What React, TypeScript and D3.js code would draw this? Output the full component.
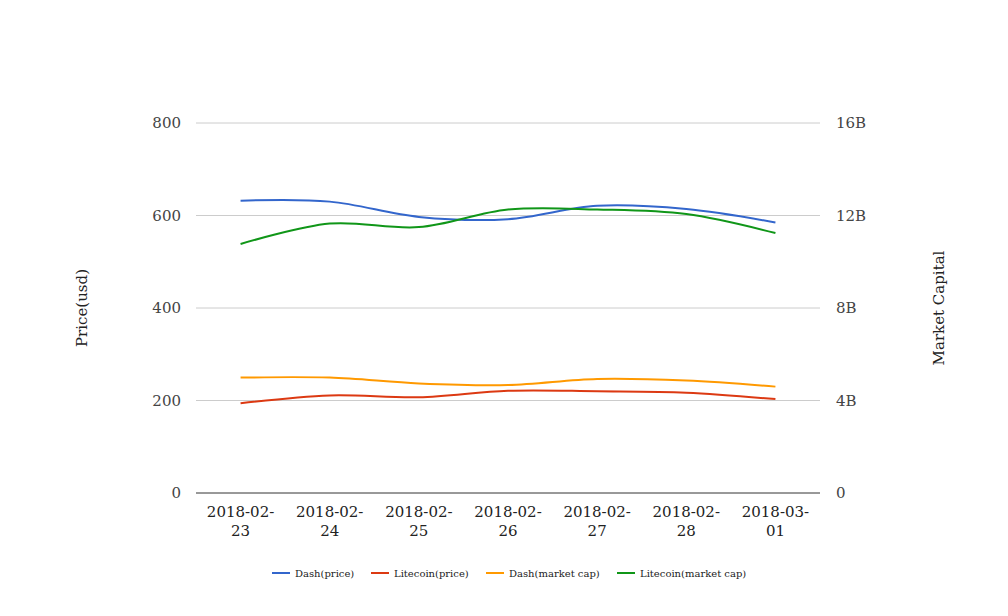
import React from "react";
import * as d3 from "d3";

const dates = ["2018-02-23", "2018-02-24", "2018-02-25", "2018-02-26", "2018-02-27", "2018-02-28", "2018-03-01"];
const dashPrice = [632, 630, 597, 592, 621, 614, 585];
const litecoinPrice = [194, 211, 207, 221, 220, 217, 203];
const dashCap = [4.99e9, 4.99e9, 4.74e9, 4.67e9, 4.93e9, 4.86e9, 4.6e9];
const litecoinCap = [10.77e9, 11.65e9, 11.5e9, 12.26e9, 12.26e9, 12.06e9, 11.24e9];
const leftTicks = [0, 200, 400, 600, 800];
const rightTicks = [0, 4e9, 8e9, 12e9, 16e9];
const rightTickLabels = ["0", "4B", "8B", "12B", "16B"];

const seriesDefs = [
  { name: "Dash(price)", values: dashPrice, axis: "left", color: "#3366cc" },
  { name: "Litecoin(price)", values: litecoinPrice, axis: "left", color: "#dc3912" },
  { name: "Dash(market cap)", values: dashCap, axis: "right", color: "#ff9900" },
  { name: "Litecoin(market cap)", values: litecoinCap, axis: "right", color: "#109618" },
];

const FONT = "'DejaVu Serif', serif";

export default function App() {
  const left = 196, right = 820, top = 123, bottom = 493;
  const x = d3.scalePoint<string>().domain(dates).range([left, right]).padding(0.5);
  const yL = d3.scaleLinear().domain([0, 800]).range([bottom, top]);
  const yR = d3.scaleLinear().domain([0, 16e9]).range([bottom, top]);

  const legendX = [272, 371, 486, 617];

  return (
    <svg width={1008} height={616} style={{ position: "absolute", left: 0, top: 0, background: "#fff" }} fontFamily={FONT}>
      {leftTicks.map((t) => (
        <g key={t}>
          {t !== 0 && <line x1={left} x2={right} y1={yL(t)} y2={yL(t)} stroke="#cccccc" strokeWidth={1} />}
          <text x={181} y={yL(t)} dy="0.35em" textAnchor="end" fontSize={15} fill="#444">{t}</text>
        </g>
      ))}
      {rightTicks.map((t, i) => (
        <text key={t} x={836} y={yR(t)} dy="0.35em" textAnchor="start" fontSize={15} fill="#444">{rightTickLabels[i]}</text>
      ))}
      {seriesDefs.map((s) => {
        const y = s.axis === "left" ? yL : yR;
        const line = d3.line<number>()
          .x((_, i) => x(dates[i]) as number)
          .y((v) => y(v))
          .curve(d3.curveCatmullRom.alpha(0.5));
        return <path key={s.name} d={line(s.values) || ""} fill="none" stroke={s.color} strokeWidth={2} />;
      })}
      <line x1={left} x2={right} y1={bottom} y2={bottom} stroke="#333" strokeWidth={1} />
      {dates.map((d) => {
        const parts = [d.slice(0, 8), d.slice(8)];
        return (
          <text key={d} x={x(d)} y={517} textAnchor="middle" fontSize={15} fill="#222">
            <tspan x={x(d)} dy="0">{parts[0]}</tspan>
            <tspan x={x(d)} dy="19">{parts[1]}</tspan>
          </text>
        );
      })}
      <text transform={`translate(87,${(top + bottom) / 2}) rotate(-90)`} textAnchor="middle" fontSize={15} fill="#222">Price(usd)</text>
      <text transform={`translate(944,${(top + bottom) / 2}) rotate(-90)`} textAnchor="middle" fontSize={15} fill="#222">Market Capital</text>
      {seriesDefs.map((s, i) => (
        <g key={s.name}>
          <line x1={legendX[i]} x2={legendX[i] + 18} y1={573} y2={573} stroke={s.color} strokeWidth={2} />
          <text x={legendX[i] + 23} y={573} dy="0.35em" fontSize={10} fill="#222">{s.name}</text>
        </g>
      ))}
    </svg>
  );
}
